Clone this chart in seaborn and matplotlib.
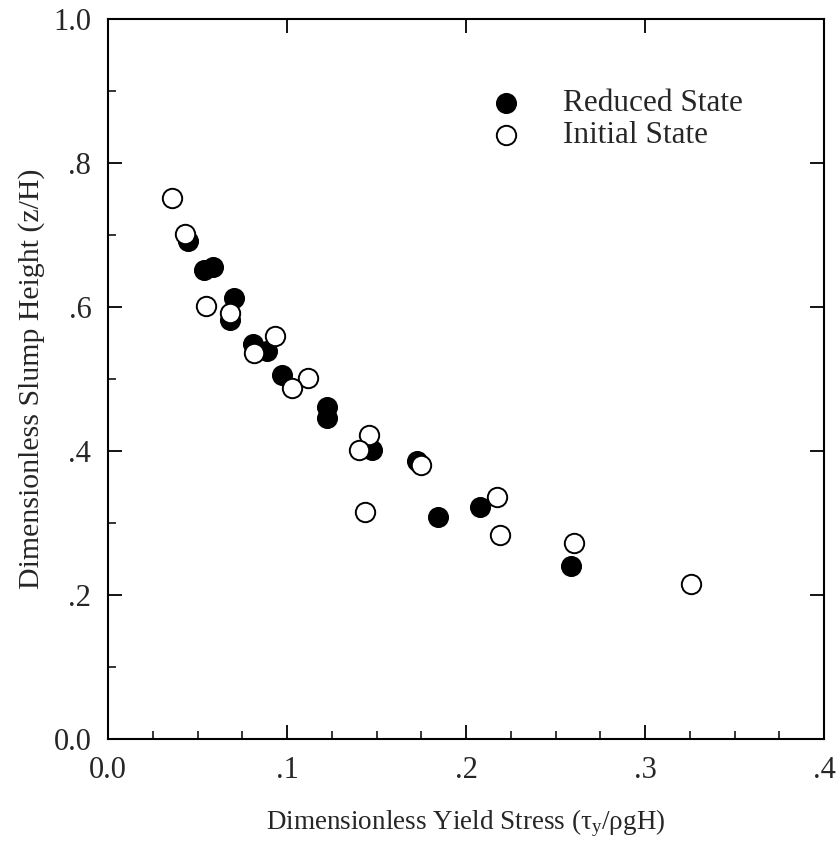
import matplotlib
matplotlib.use("Agg")
import matplotlib.pyplot as plt
import seaborn as sns
import pandas as pd
from matplotlib.ticker import MultipleLocator

# Data
reduced_x = [0.0449, 0.0538, 0.0587, 0.0705, 0.0683, 0.0808, 0.0890, 0.0974,
             0.1221, 0.1221, 0.1473, 0.1729, 0.1842, 0.2077, 0.2589]
reduced_y = [0.692, 0.652, 0.655, 0.612, 0.582, 0.548, 0.539, 0.506,
             0.461, 0.446, 0.401, 0.386, 0.308, 0.322, 0.240]
initial_x = [0.0357, 0.0431, 0.0545, 0.0681, 0.0932, 0.0818, 0.1120, 0.1030,
             0.1460, 0.1403, 0.1751, 0.1436, 0.2175, 0.2191, 0.2604, 0.3256]
initial_y = [0.751, 0.701, 0.601, 0.592, 0.560, 0.536, 0.501, 0.488,
             0.422, 0.402, 0.381, 0.315, 0.336, 0.284, 0.272, 0.215]
series_labels = ["Reduced State", "Initial State"]
x_ticks = [0.0, 0.1, 0.2, 0.3, 0.4]
x_tick_labels = ["0.0", ".1", ".2", ".3", ".4"]
y_ticks = [0.0, 0.2, 0.4, 0.6, 0.8, 1.0]
y_tick_labels = ["0.0", ".2", ".4", ".6", ".8", "1.0"]

sns.set_theme(style="white")
plt.rcParams["font.family"] = ["Liberation Serif", "DejaVu Serif"]
plt.rcParams["mathtext.fontset"] = "custom"
plt.rcParams["mathtext.rm"] = "Liberation Serif"
plt.rcParams["mathtext.it"] = "Liberation Serif"

fig = plt.figure(figsize=(8.38, 8.44), dpi=100)
ax = fig.add_axes([108 / 838, 1 - 739 / 844, (824 - 108) / 838, (739 - 19) / 844])

df_r = pd.DataFrame({"x": reduced_x, "y": reduced_y})
df_i = pd.DataFrame({"x": initial_x, "y": initial_y})

sns.scatterplot(data=df_r, x="x", y="y", ax=ax, s=195, color="black",
                edgecolor="black", linewidth=1.2, label=series_labels[0], zorder=3)
sns.scatterplot(data=df_i, x="x", y="y", ax=ax, s=195, color="white",
                edgecolor="black", linewidth=1.4, label=series_labels[1], zorder=4)

ax.set_xlim(0, 0.4)
ax.set_ylim(0, 1.0)
ax.set_xticks(x_ticks)
ax.set_xticklabels(x_tick_labels)
ax.set_yticks(y_ticks)
ax.set_yticklabels(y_tick_labels)
ax.xaxis.set_minor_locator(MultipleLocator(0.025))
ax.yaxis.set_minor_locator(MultipleLocator(0.1))

for sp in ax.spines.values():
    sp.set_visible(True)
    sp.set_color("black")
    sp.set_linewidth(1.5)

ax.tick_params(which="major", direction="in", length=10, width=1.3, color="black",
               labelsize=22, top=True, right=True, bottom=True, left=True, pad=12)
ax.tick_params(which="minor", direction="in", length=5.5, width=1.1, color="black",
               top=False, right=False, bottom=True, left=True)

ax.set_xlabel("Dimensionless Yield Stress (τ$_\\mathrm{y}$/ρgH)", fontsize=19.5, labelpad=16)
ax.set_ylabel("Dimensionless Slump Height (z/H)", fontsize=21.5, labelpad=6)

leg = ax.legend(loc="upper left", bbox_to_anchor=(0.5126, 0.903), frameon=False,
                fontsize=22.5, handletextpad=0.8, labelspacing=0.1, borderaxespad=0,
                borderpad=0, markerscale=1.0)

fig.savefig("out.png", dpi=100)
